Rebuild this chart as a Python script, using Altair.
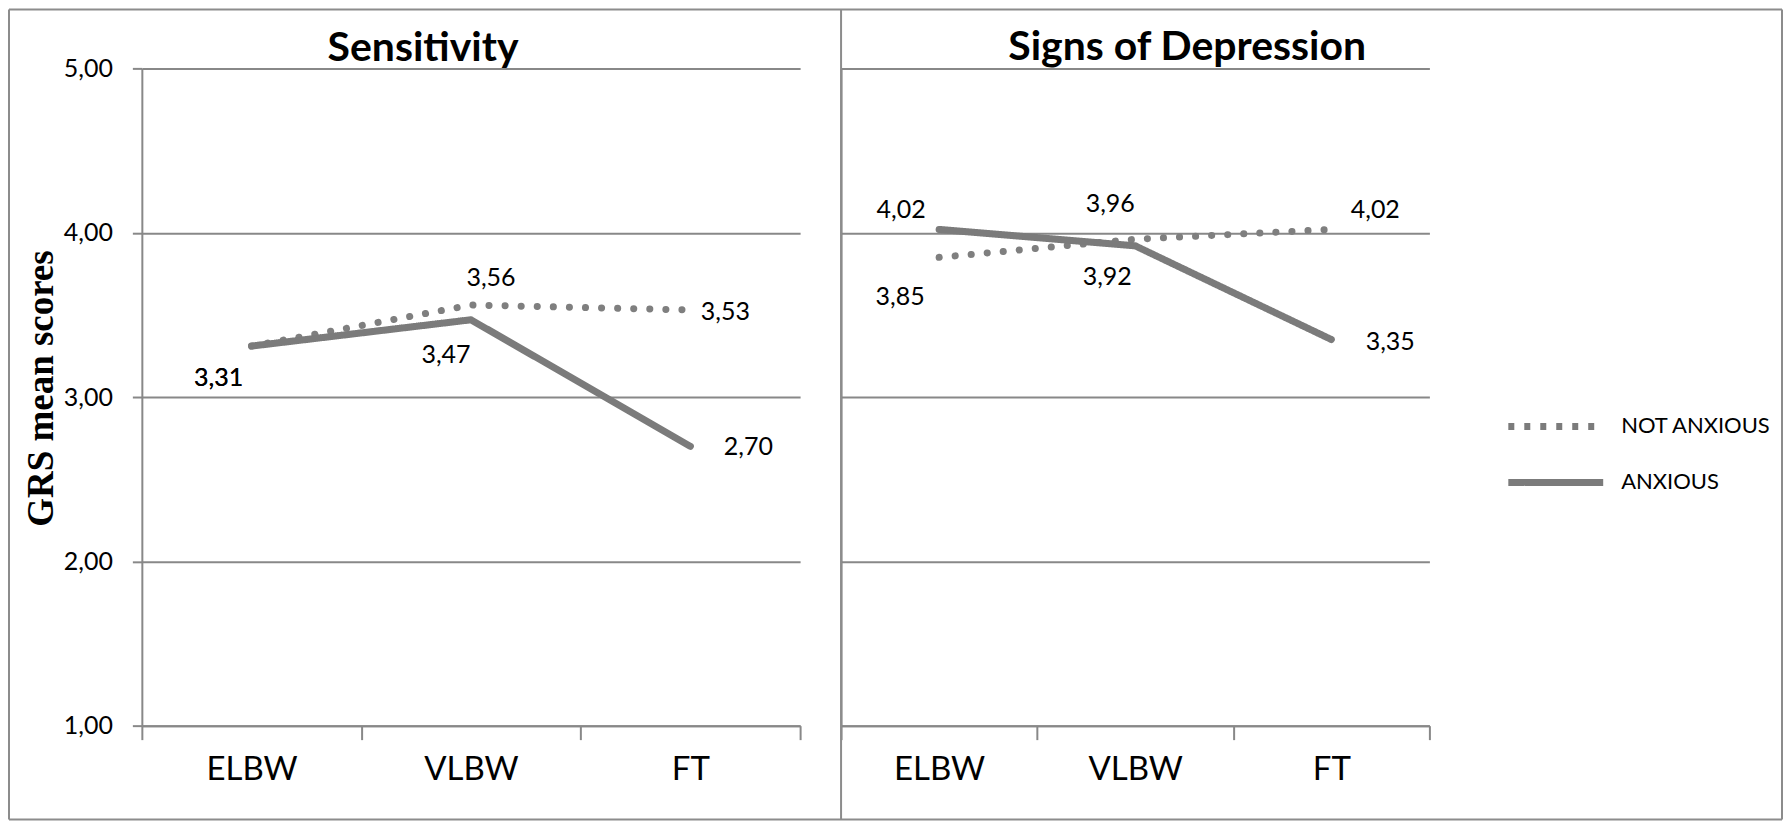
import altair as alt
import pandas as pd

# ---------------- data ----------------
categories = ["ELBW", "VLBW", "FT"]
groups = ["NOT ANXIOUS", "ANXIOUS"]
sensitivity_not_anxious = [3.31, 3.56, 3.53]
sensitivity_anxious = [3.31, 3.47, 2.70]
depression_not_anxious = [3.85, 3.96, 4.02]
depression_anxious = [4.02, 3.92, 3.35]
y_ticks = [1, 2, 3, 4, 5]
panel_titles = ["Sensitivity", "Signs of Depression"]
y_title = "GRS mean scores"


def long_table(not_anxious, anxious):
    rows = []
    for g, vals in zip(groups, [not_anxious, anxious]):
        for c, v in zip(categories, vals):
            rows.append({"group": g, "category": c, "value": v})
    return pd.DataFrame(rows)


sens_df = long_table(sensitivity_not_anxious, sensitivity_anxious)
dep_df = long_table(depression_not_anxious, depression_anxious)

# ---------------- style ----------------
# data-label offsets (dx, dy) in pixels, per (group, category)
SENS_LABEL_OFFSETS = {
    ("NOT ANXIOUS", "ELBW"): (-33, 32),
    ("ANXIOUS", "ELBW"): (-33, 32),
    ("NOT ANXIOUS", "VLBW"): (20, -27),
    ("ANXIOUS", "VLBW"): (-25, 35),
    ("NOT ANXIOUS", "FT"): (35, 2),
    ("ANXIOUS", "FT"): (58, 1),
}
DEP_LABEL_OFFSETS = {
    ("ANXIOUS", "ELBW"): (-38, -19),
    ("NOT ANXIOUS", "ELBW"): (-39, 40),
    ("NOT ANXIOUS", "VLBW"): (-25, -35),
    ("ANXIOUS", "VLBW"): (-28, 31),
    ("NOT ANXIOUS", "FT"): (44, -19),
    ("ANXIOUS", "FT"): (59, 3),
}

LINE = "#7b7b7b"
DOTS = "#7f7f7f"
GRID = "#888888"
FRAME = "#8c8c8c"
FONT = "Lato"
H = 658
W_LEFT = 659
W_RIGHT = 589
GAP = 41
LABEL_EXPR = "replace(format(datum.value, '.2f'), '.', ',')"

x_scale = alt.Scale(type="band", paddingInner=0, paddingOuter=0)
y_scale = alt.Scale(domain=[1, 5], nice=False, zero=False)


def panel(df, width, title, title_dx, title_dy, offsets, left):
    x_axis = alt.Axis(
        title=None, tickBand="extent", tickSize=14, tickWidth=2, tickColor=GRID,
        domainColor=GRID, domainWidth=2, labelFont=FONT, labelFontSize=33,
        labelColor="black", labelPadding=14, labelAngle=0, grid=False,
    )
    if left:
        y_axis = alt.Axis(
            values=y_ticks, title=y_title, titleFont="Liberation Serif",
            titleFontSize=37, titleFontWeight="bold", titleColor="black",
            titleX=-89, titleY=320, titleBaseline="alphabetic",
            labelExpr=LABEL_EXPR, labelFont=FONT, labelFontSize=25,
            labelColor="black", labelPadding=20, tickSize=9.5, tickWidth=2,
            tickColor=GRID, domainColor=GRID, domainWidth=2, grid=True,
            gridColor=GRID, gridWidth=2,
        )
        legend = None
    else:
        y_axis = alt.Axis(
            values=y_ticks, title=None, labels=False, ticks=False,
            domainColor=GRID, domainWidth=2, grid=True, gridColor=GRID, gridWidth=2,
        )
        legend = alt.Legend(
            title=None, orient="none", legendX=700, legendY=343,
            symbolType="M-4,0H4", symbolSize=564, symbolStrokeWidth=7,
            symbolStrokeColor=LINE, labelFont=FONT, labelFontSize=22,
            labelColor="black", labelOffset=50, rowPadding=26, padding=0,
            direction="vertical",
        )

    base = alt.Chart(df)
    x_enc = alt.X("category:N", sort=categories, scale=x_scale, bandPosition=0.5, axis=x_axis)
    y_enc = alt.Y("value:Q", scale=y_scale, axis=y_axis)

    # NOT ANXIOUS: round dotted line
    dotted = (
        base.transform_filter(alt.datum.group == groups[0])
        .mark_line(color=DOTS, strokeWidth=7, strokeCap="round",
                   strokeJoin="round", strokeDash=[0.1, 16])
        .encode(x=x_enc, y=y_enc)
    )
    # ANXIOUS: solid line (carries the legend for both groups)
    solid = (
        base.transform_filter(alt.datum.group == groups[1])
        .mark_line(color=LINE, strokeWidth=7, strokeCap="round", strokeJoin="round")
        .encode(
            x=x_enc,
            y=y_enc,
            strokeDash=alt.StrokeDash(
                "group:N",
                scale=alt.Scale(domain=groups, range=[[6, 10], [1, 0]]),
                legend=legend,
            ),
        )
    )

    layers = [dotted, solid]
    for (g, c), (dx, dy) in offsets.items():
        layers.append(
            base.transform_filter((alt.datum.group == g) & (alt.datum.category == c))
            .transform_calculate(label=LABEL_EXPR)
            .mark_text(dx=dx, dy=dy, font=FONT, fontSize=25, color="black",
                       align="center", baseline="middle")
            .encode(
                x=alt.X("category:N", sort=categories, scale=x_scale, bandPosition=0.5),
                y=alt.Y("value:Q", scale=y_scale),
                text="label:N",
            )
        )

    return alt.layer(*layers).properties(
        width=width,
        height=H,
        title=alt.TitleParams(
            text=title, font=FONT, fontSize=41, fontWeight="bold", color="black",
            anchor="middle", frame="group", dx=title_dx, dy=title_dy, offset=11,
            baseline="alphabetic",
        ),
    )


left = panel(sens_df, W_LEFT, panel_titles[0], -48, 57, SENS_LABEL_OFFSETS, True)
right = panel(dep_df, W_RIGHT, panel_titles[1], 52, 44, DEP_LABEL_OFFSETS, False)

# outer frame and divider (decoration), drawn from a tiny third cell
X3 = W_LEFT + GAP + W_RIGHT + GAP  # origin of the frame cell relative to left plot
PLOT_LEFT_PAGE = 142
PLOT_TOP_PAGE = 68


def px(page_x):
    return page_x - PLOT_LEFT_PAGE - X3


def py(page_y):
    return page_y - PLOT_TOP_PAGE


FL, FR, FT_, FB, FD = px(9), px(1784), py(9), py(820), px(842)
one = pd.DataFrame({"k": [0]})
fb = alt.Chart(one)
frame_layers = [
    fb.mark_rule(color=FRAME, strokeWidth=2).encode(x=alt.value(FL), x2=alt.value(FR), y=alt.value(FT_)),
    fb.mark_rule(color=FRAME, strokeWidth=2).encode(x=alt.value(FL), x2=alt.value(FR), y=alt.value(FB)),
    fb.mark_rule(color=FRAME, strokeWidth=2).encode(x=alt.value(FL), y=alt.value(FT_), y2=alt.value(FB)),
    fb.mark_rule(color=FRAME, strokeWidth=2).encode(x=alt.value(FR), y=alt.value(FT_), y2=alt.value(FB)),
    fb.mark_rule(color=FRAME, strokeWidth=2).encode(x=alt.value(FD), y=alt.value(FT_), y2=alt.value(FB)),
]
frame = alt.layer(*frame_layers).properties(width=1, height=H)

chart = (
    alt.hconcat(left, right, frame, spacing=GAP, bounds="flush")
    .resolve_scale(strokeDash="independent")
    .properties(padding=0, background="white")
    .configure_view(stroke=None)
)

chart.save("out.html", embed_options={"renderer": "svg", "actions": False})
